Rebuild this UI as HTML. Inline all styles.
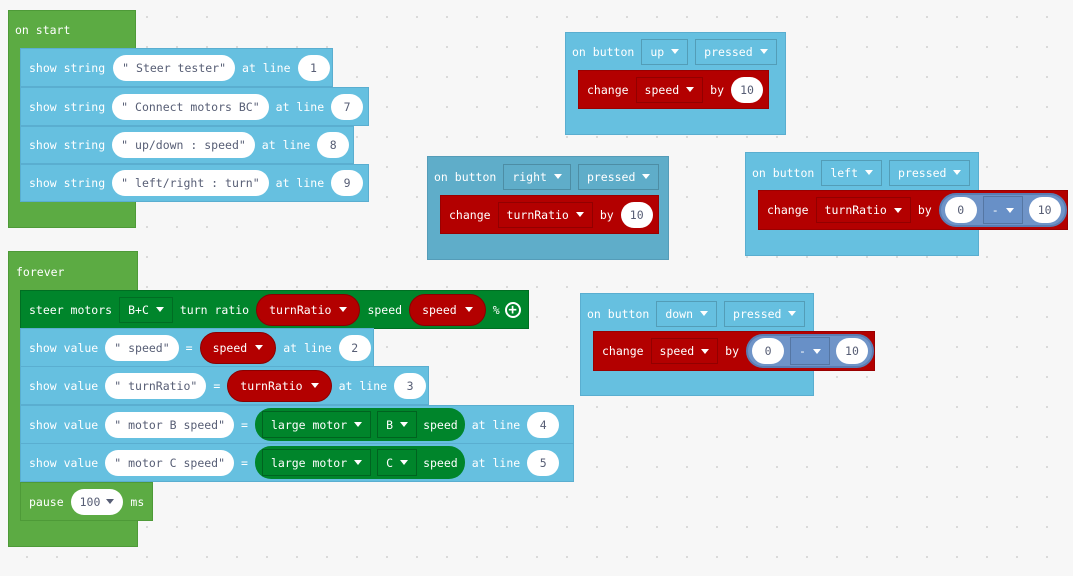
<!DOCTYPE html>
<html><head><meta charset="utf-8"><style>
*{box-sizing:border-box}
body{margin:0;width:1073px;height:576px;overflow:hidden;background-color:#f7f7f7;background-image:radial-gradient(circle,#d8d8d8 1px,transparent 1.2px);background-size:30px 30px;background-position:12px 2px;position:relative;font-family:"DejaVu Sans Mono","Liberation Mono",monospace;font-size:11.5px;color:#fff}
.b{position:absolute}
.row{position:absolute;display:flex;align-items:center;gap:7px;padding-left:8px;white-space:pre}
.g{background:#5cab43;border:1px solid #4e9a38}
.lb{background:#66c0e0;border:1px solid #5aaed0}
.db{background:#5fadc9;border:1px solid #559cb8}
.red{background:#b30000;border:1px solid #9a0000}
.dg{background:#00852b;border:1px solid #006e22}
.pill{background:#fff;color:#575e75;border-radius:14px;height:26px;padding:0 9px;display:flex;align-items:center;justify-content:center}
.n{min-width:32px}
.dd{border:1px solid rgba(0,0,0,.18);height:26px;padding:0 8px;display:flex;align-items:center;gap:7px}
.c{display:inline-block;width:0;height:0;border-left:4px solid transparent;border-right:4px solid transparent;border-top:5px solid #fff}
.rv{background:#b30000;border:1px solid #8a0000;border-radius:16px;height:32px;padding:0 12px;display:flex;align-items:center;gap:8px}
.gr{background:#00852b;border-radius:16px;height:33px;padding:0 7px;display:flex;align-items:center;gap:6px}
.gr .dd{height:27px;border-color:rgba(0,0,0,.25)}
.op{background:#6f94c8;border:2px solid #5a7db3;border-radius:18px;height:34px;padding:0 4px;display:flex;align-items:center;gap:6px}
.op .dd{border-color:rgba(0,0,0,.18);background:#6890c7;height:28px}
.hdr{position:absolute;display:flex;align-items:center;gap:7px;padding-left:7px;white-space:pre}
</style></head><body>

<div class="b g" style="left:8px;top:10px;width:128px;height:218px"></div>
<div class="hdr" style="left:8px;top:18px;height:24px">on start</div>
<div class="row lb" style="left:20px;top:48px;width:313px;height:39px">show string<span class="pill" style="margin-left:1px">" Steer tester"</span>at line<span class="pill n">1</span></div>
<div class="row lb" style="left:20px;top:87px;width:349px;height:39px">show string<span class="pill">" Connect motors BC"</span>at line<span class="pill n">7</span></div>
<div class="row lb" style="left:20px;top:126px;width:334px;height:38px">show string<span class="pill">" up/down : speed"</span>at line<span class="pill n">8</span></div>
<div class="row lb" style="left:20px;top:164px;width:349px;height:38px">show string<span class="pill">" left/right : turn"</span>at line<span class="pill n">9</span></div>

<div class="b g" style="left:8px;top:251px;width:130px;height:296px"></div>
<div class="hdr" style="left:9px;top:260px;height:24px">forever</div>
<div class="row dg" style="left:20px;top:290px;width:509px;height:39px">steer motors<span class="dd" style="height:26px">B+C<i class="c"></i></span>turn ratio<span class="rv">turnRatio<i class="c"></i></span>speed<span class="rv">speed<i class="c"></i></span>%<span style="width:16px;height:16px;border:2px solid #fff;border-radius:50%;display:flex;align-items:center;justify-content:center;font-weight:bold;font-size:14px;margin-left:-2px">+</span></div>
<div class="row lb" style="left:20px;top:328px;width:354px;height:39px">show value<span class="pill">" speed"</span>=<span class="rv">speed<i class="c"></i></span>at line<span class="pill n">2</span></div>
<div class="row lb" style="left:20px;top:366px;width:409px;height:39px">show value<span class="pill">" turnRatio"</span>=<span class="rv">turnRatio<i class="c"></i></span>at line<span class="pill n">3</span></div>
<div class="row lb" style="left:20px;top:405px;width:554px;height:39px">show value<span class="pill">" motor B speed"</span>=<span class="gr"><span class="dd">large motor<i class="c"></i></span><span class="dd">B<i class="c"></i></span>speed</span>at line<span class="pill n">4</span></div>
<div class="row lb" style="left:20px;top:443px;width:554px;height:39px">show value<span class="pill">" motor C speed"</span>=<span class="gr"><span class="dd">large motor<i class="c"></i></span><span class="dd">C<i class="c"></i></span>speed</span>at line<span class="pill n">5</span></div>
<div class="row g" style="left:20px;top:482px;width:133px;height:39px">pause<span class="pill" style="gap:6px">100<i class="c" style="border-top-color:#575e75"></i></span>ms</div>

<div class="b lb" style="left:565px;top:32px;width:221px;height:103px"></div>
<div class="hdr" style="left:565px;top:38px;height:27px">on button<span class="dd">up<i class="c"></i></span><span class="dd">pressed<i class="c"></i></span></div>
<div class="row red" style="left:578px;top:70px;width:191px;height:39px">change<span class="dd">speed<i class="c"></i></span>by<span class="pill n">10</span></div>

<div class="b db" style="left:427px;top:156px;width:242px;height:104px"></div>
<div class="hdr" style="left:427px;top:163px;height:27px">on button<span class="dd">right<i class="c"></i></span><span class="dd">pressed<i class="c"></i></span></div>
<div class="row red" style="left:440px;top:195px;width:219px;height:39px">change<span class="dd">turnRatio<i class="c"></i></span>by<span class="pill n">10</span></div>

<div class="b lb" style="left:745px;top:152px;width:234px;height:104px"></div>
<div class="hdr" style="left:745px;top:159px;height:27px">on button<span class="dd">left<i class="c"></i></span><span class="dd">pressed<i class="c"></i></span></div>
<div class="row red" style="left:758px;top:190px;width:310px;height:40px">change<span class="dd">turnRatio<i class="c"></i></span>by<span class="op"><span class="pill n" style="height:26px">0</span><span class="dd">-<i class="c"></i></span><span class="pill n" style="height:26px">10</span></span></div>

<div class="b lb" style="left:580px;top:293px;width:234px;height:103px"></div>
<div class="hdr" style="left:580px;top:300px;height:27px">on button<span class="dd">down<i class="c"></i></span><span class="dd">pressed<i class="c"></i></span></div>
<div class="row red" style="left:593px;top:331px;width:282px;height:40px">change<span class="dd">speed<i class="c"></i></span>by<span class="op"><span class="pill n" style="height:26px">0</span><span class="dd">-<i class="c"></i></span><span class="pill n" style="height:26px">10</span></span></div>

</body></html>
